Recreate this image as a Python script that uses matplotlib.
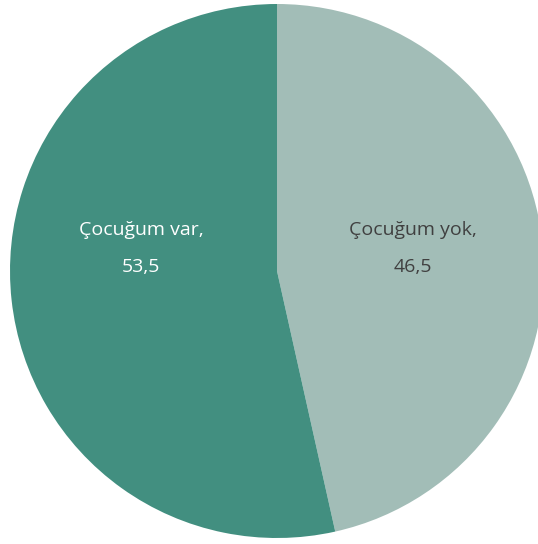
import matplotlib
matplotlib.use("Agg")
import matplotlib.pyplot as plt

categories = ["Çocuğum yok", "Çocuğum var"]
values = [46.5, 53.5]
value_labels = ["46,5", "53,5"]
colors = ["#a2bdb7", "#428f80"]
text_colors = ["#404040", "#ffffff"]

W, H = 538, 544
fig = plt.figure(figsize=(W / 100, H / 100), dpi=100)
ax = fig.add_axes([0, 0, 1, 1])
cx, cy, r = 277, 271, 267
ax.pie(values, colors=colors, startangle=90, counterclock=False, radius=1,
       wedgeprops=dict(linewidth=0))
ax.set_xlim(-cx / r, (W - cx) / r)
ax.set_ylim(-(H - cy) / r, cy / r)
ax.set_aspect("auto")
ax.axis("off")

def px(x, y):
    return (x - cx) / r, (cy - y) / r

label_pos = [(413, 230, 267), (141, 230, 267)]
for cat, vl, tc, (x, y1, y2) in zip(categories, value_labels, text_colors, label_pos):
    ax.text(*px(x, y1), cat + ",", ha="center", va="center", color=tc,
            fontsize=14, family="Open Sans")
    ax.text(*px(x, y2), vl, ha="center", va="center", color=tc,
            fontsize=14, family="Open Sans")

fig.savefig("out.png", dpi=100)
